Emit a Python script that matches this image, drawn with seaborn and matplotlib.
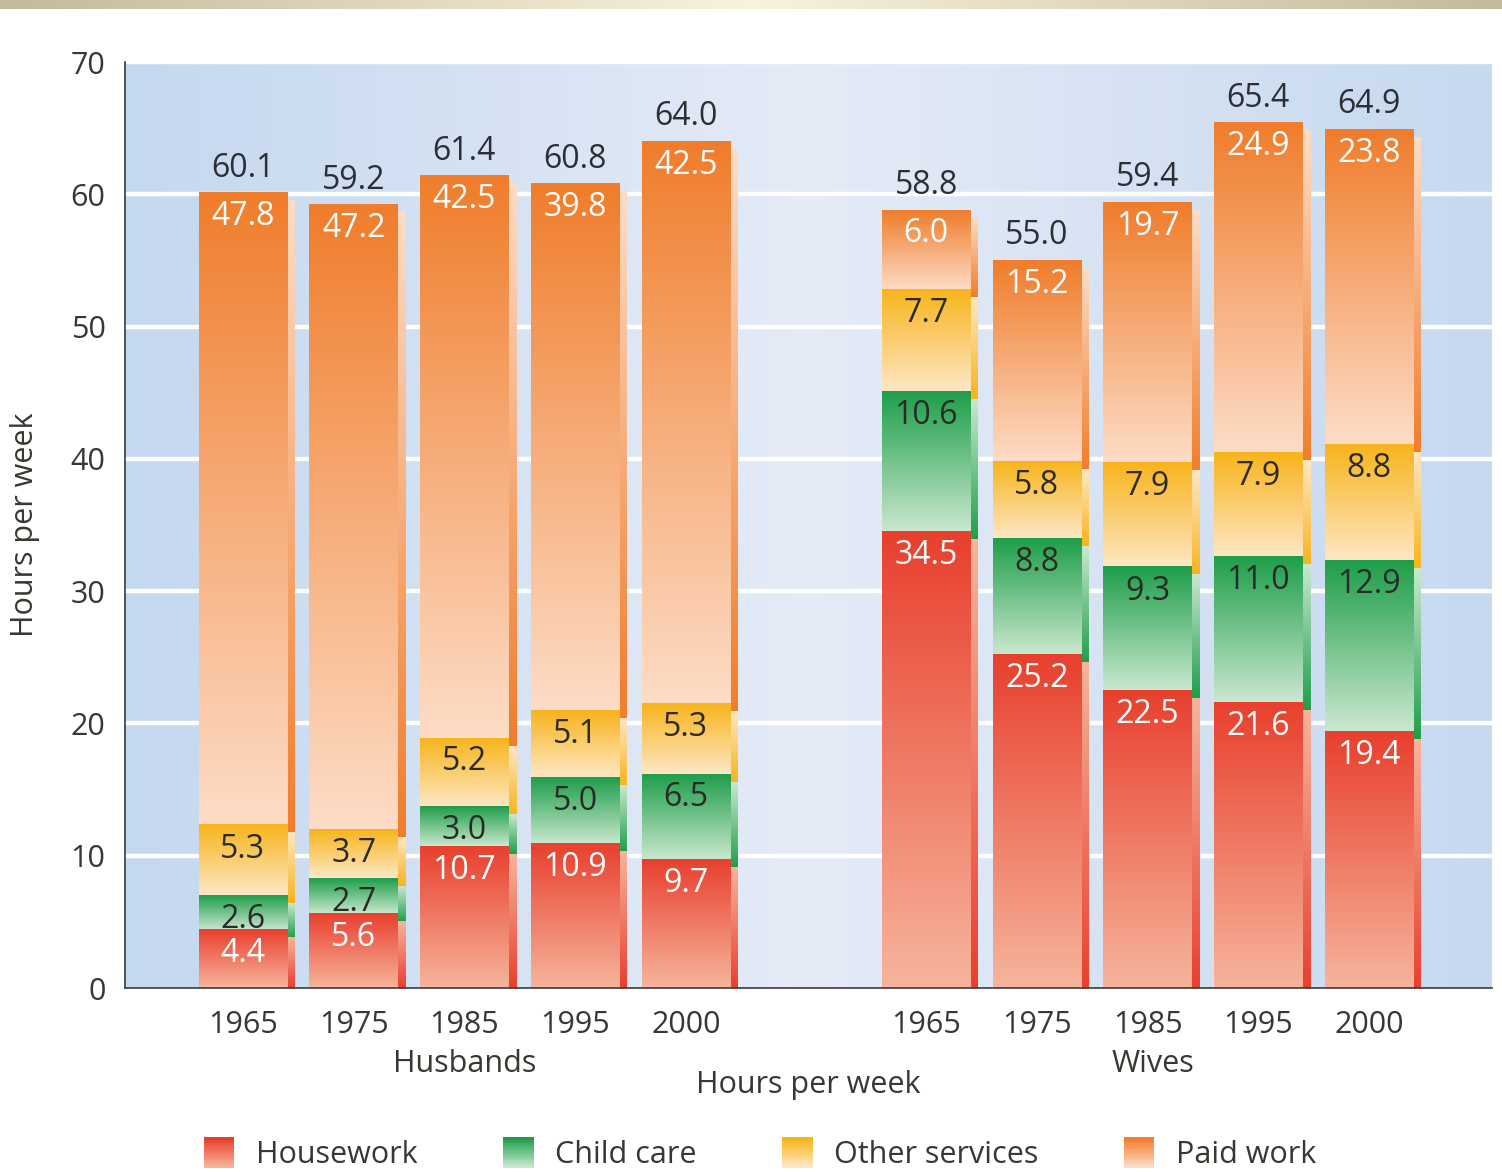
import numpy as np
import pandas as pd
import matplotlib
matplotlib.use('Agg')
import matplotlib.pyplot as plt
import seaborn as sns
from matplotlib.colors import LinearSegmentedColormap
from matplotlib.patches import Rectangle
from matplotlib.legend_handler import HandlerBase
import matplotlib.transforms as mtransforms

# data
years = ['1965', '1975', '1985', '1995', '2000']
group_names = ['Husbands', 'Wives']
activities = ['Housework', 'Child care', 'Other services', 'Paid work']

husband_housework = [4.4, 5.6, 10.7, 10.9, 9.7]
husband_childcare = [2.6, 2.7, 3.0, 5.0, 6.5]
husband_other = [5.3, 3.7, 5.2, 5.1, 5.3]
husband_paid = [47.8, 47.2, 42.5, 39.8, 42.5]
husband_total = [60.1, 59.2, 61.4, 60.8, 64.0]

wife_housework = [34.5, 25.2, 22.5, 21.6, 19.4]
wife_childcare = [10.6, 8.8, 9.3, 11.0, 12.9]
wife_other = [7.7, 5.8, 7.9, 7.9, 8.8]
wife_paid = [6.0, 15.2, 19.7, 24.9, 23.8]
wife_total = [58.8, 55.0, 59.4, 65.4, 64.9]

# top (saturated) and bottom (pale) colours of each segment gradient
top_colors = {'Housework': '#E8402E', 'Child care': '#1F9E4A',
              'Other services': '#F8B41C', 'Paid work': '#F07D2C'}
pale_colors = {'Housework': '#F7B49C', 'Child care': '#C9E8CF',
               'Other services': '#FDE7C4', 'Paid work': '#FDDCC6'}
label_colors = {'Housework': 'white', 'Child care': '#2A2A28',
                'Other services': '#2A2A28', 'Paid work': 'white'}
cmaps = {a: LinearSegmentedColormap.from_list(a, [pale_colors[a], top_colors[a]]) for a in activities}

text_color = '#3A3632'

# build long table
gap = 6.17
positions = [i for i in range(len(years))] + [gap + i for i in range(len(years))]
segs = {
    'Housework': husband_housework + wife_housework,
    'Child care': husband_childcare + wife_childcare,
    'Other services': husband_other + wife_other,
    'Paid work': husband_paid + wife_paid,
}
totals = husband_total + wife_total
rows = []
for j, p in enumerate(positions):
    cum = 0.0
    for a in activities:
        cum += segs[a][j]
        rows.append({'pos': p, 'activity': a, 'value': segs[a][j], 'cum': cum})
df = pd.DataFrame(rows)

sns.set_theme(style='white')
plt.rcParams['font.family'] = ['Open Sans', 'DejaVu Sans']

fig = plt.figure(figsize=(15.02, 11.72), dpi=100)
ax = fig.add_axes([125 / 1502, 1 - 988 / 1172, (1492 - 125) / 1502, (988 - 62) / 1172])

# top beige band
band = fig.add_axes([0, 1 - 9 / 1172, 1, 9 / 1172])
bcmap = LinearSegmentedColormap.from_list('band', ['#C5B99C', '#F8F3DC', '#C5B99C'])
band.imshow(np.linspace(0, 1, 256).reshape(1, -1), cmap=bcmap, aspect='auto')
band.axis('off')

hue_order = activities[::-1]
sns.barplot(data=df, x='pos', y='cum', hue='activity', hue_order=hue_order,
            palette=top_colors, native_scale=True, dodge=False, errorbar=None,
            legend=False, width=0.8, saturation=1, ax=ax)

xlim = (-1.065, gap + 4 + 1.11)
ylim = (0, 70)

# background gradient and grid
bg = LinearSegmentedColormap.from_list('bg', ['#C4D8EF', '#E5EBF7', '#C6D9EF'])
ax.imshow(np.linspace(0, 1, 256).reshape(1, -1), cmap=bg, aspect='auto',
          extent=(0, 1, 0, 1), transform=ax.transAxes, zorder=0)
for yv in range(10, 71, 10):
    ax.axhline(yv, color='white', lw=3.2, zorder=1)

grad = np.linspace(0, 1, 128).reshape(-1, 1)
for cont, act in zip(ax.containers, hue_order):
    sub = df[df['activity'] == act].sort_values('pos')
    for patch, (_, r) in zip(cont.patches, sub.iterrows()):
        x0 = patch.get_x()
        w = patch.get_width()
        top = patch.get_height()
        bot = top - r['value']
        patch.set_visible(False)
        ax.imshow(grad, cmap=cmaps[act], origin='lower', aspect='auto',
                  interpolation='bicubic', extent=(x0, x0 + w, bot, top), zorder=3)
        # side strip (3D edge)
        sb = max(bot - 0.6, 0)
        st = top - 0.6
        ax.imshow(grad[::-1], cmap=cmaps[act], origin='lower', aspect='auto',
                  interpolation='bicubic', extent=(x0 + w, x0 + w + 0.065, sb, st), zorder=2.5)
        ax.text(x0 + w / 2, top - 1.8, f"{r['value']:.1f}", ha='center', va='center',
                fontsize=23, color=label_colors[act], zorder=5)

for p, t in zip(positions, totals):
    ax.text(p, t + 1.85, f"{t:.1f}", ha='center', va='center', fontsize=23,
            color='#2C2E33', zorder=5)

ax.set_xlim(*xlim)
ax.set_ylim(*ylim)
ax.set_yticks(range(0, 71, 10))
ax.set_xticks(positions)
ax.set_xticklabels(years + years)
ax.tick_params(axis='both', length=0, labelsize=22, labelcolor=text_color)
ax.tick_params(axis='x', pad=16)
ax.tick_params(axis='y', pad=14)
for s in ['top', 'right']:
    ax.spines[s].set_visible(False)
for s in ['left', 'bottom']:
    ax.spines[s].set_color('#3A3A3A')
    ax.spines[s].set_linewidth(1.2)
    ax.spines[s].set_zorder(6)

ax.set_ylabel('Hours per week', fontsize=22, color=text_color)
ax.yaxis.set_label_coords(-0.062, 0.5)
ax.set_xlabel('Hours per week', fontsize=22, color=text_color)
ax.xaxis.set_label_coords(0.5, -0.089)

trans = mtransforms.blended_transform_factory(ax.transData, ax.transAxes)
ax.text(2, -0.082, group_names[0], transform=trans, ha='center', va='center',
        fontsize=22, color=text_color)
ax.text(gap + 2.05, -0.082, group_names[1], transform=trans, ha='center', va='center',
        fontsize=22, color=text_color)


class GradientHandler(HandlerBase):
    def __init__(self, cmap):
        super().__init__()
        self.cmap = cmap

    def create_artists(self, legend, orig_handle, xdescent, ydescent, width, height, fontsize, trans):
        n = 16
        out = []
        for k in range(n):
            r = Rectangle((-xdescent, -ydescent + height * k / n), width, height / n + 0.3,
                          facecolor=self.cmap(k / (n - 1)), edgecolor='none', transform=trans)
            out.append(r)
        return out


handles = [Rectangle((0, 0), 1, 1, label=a) for a in activities]
hmap = {h: GradientHandler(cmaps[a]) for h, a in zip(handles, activities)}
fig.legend(handles=handles, labels=activities, handler_map=hmap, loc='center',
           bbox_to_anchor=(0.506, 1 - 1154 / 1172), ncol=4, frameon=False,
           fontsize=22, labelcolor=text_color, handlelength=1.0, handleheight=1.15,
           handletextpad=0.7, columnspacing=2.8)

fig.savefig('out.png', dpi=100)
